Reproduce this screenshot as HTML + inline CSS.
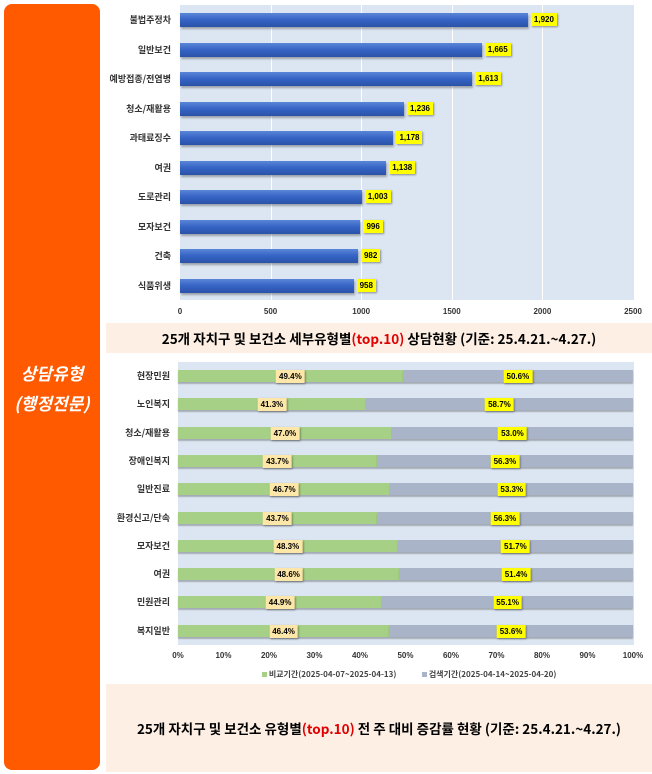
<!DOCTYPE html>
<html><head><meta charset="utf-8"><style>
body{margin:0;width:652px;height:774px;background:#fff;position:relative;overflow:hidden;font-family:"Liberation Sans","Noto Sans CJK KR",sans-serif}
.abs{position:absolute}
.side{left:4px;top:4px;width:96px;height:766px;background:#ff5a00;border-radius:8px}
.side div{position:absolute;left:0;width:96px;text-align:center;color:#fff;font-weight:bold;font-style:italic;font-size:17px;font-family:"Noto Sans CJK KR",sans-serif}
.cap{background:#fdefe4;left:106px;width:546px;font-weight:bold;font-size:13.5px;text-align:center;font-family:"Noto Sans CJK KR",sans-serif}
.cap span{color:#e00000}
.lbl{font-size:9px;font-weight:bold;color:#333;text-align:right;width:120px;font-family:"Noto Sans CJK KR",sans-serif}
.tk{font-size:8px;font-weight:bold;color:#333;width:40px;text-align:center}
.bar{background:linear-gradient(#5a86d8,#3563c4 50%,#2a52a8);box-shadow:1px 2px 2px rgba(0,0,0,.3)}
.v{background:#ffff00;font-size:8px;font-weight:bold;padding:1px 3px;box-shadow:1px 1px 2px rgba(0,0,0,.4);line-height:11px}
.g{background:#a6d086;box-shadow:0 2px 1px rgba(0,0,0,.25)}
.r{background:#aab4c8;box-shadow:0 2px 1px rgba(0,0,0,.25)}
.vb{background:#fde7a8;font-size:8px;font-weight:bold;padding:1px 3px;box-shadow:1px 1px 2px rgba(0,0,0,.4);line-height:11px;transform:translateX(-50%)}
.vy{background:#ffff00;font-size:8px;font-weight:bold;padding:1px 3px;box-shadow:1px 1px 2px rgba(0,0,0,.4);line-height:11px;transform:translateX(-50%)}
</style></head><body>
<div class="abs side"><div style="top:356px">상담유형</div><div style="top:386px">(행정전문)</div></div>
<div class="abs" style="left:180px;top:5px;width:454px;height:295px;background:#dce6f2"></div>
<div id="top"></div>
<div class="abs cap" style="top:323px;height:30px;line-height:30px">25개 자치구 및 보건소 세부유형별<span>(top.10)</span> 상담현황 (기준: 25.4.21.~4.27.)</div>
<div class="abs" style="left:178px;top:362px;width:456px;height:283px;background:#dce6f2"></div>
<div id="bot"></div>
<div class="abs" style="left:262px;top:669px;font-size:8px;font-weight:bold;color:#444;font-family:'Noto Sans CJK KR',sans-serif"><span style="display:inline-block;width:5px;height:5px;background:#a6d086"></span> 비교기간(2025-04-07~2025-04-13)</div>
<div class="abs" style="left:422px;top:669px;font-size:8px;font-weight:bold;color:#444;font-family:'Noto Sans CJK KR',sans-serif"><span style="display:inline-block;width:5px;height:5px;background:#aab4c8"></span> 검색기간(2025-04-14~2025-04-20)</div>
<div class="abs cap" style="top:684px;height:88px;line-height:88px">25개 자치구 및 보건소 유형별<span>(top.10)</span> 전 주 대비 증감률 현황 (기준: 25.4.21.~4.27.)</div>
<script>
var t=[["불법주정차",1920,"1,920"],["일반보건",1665,"1,665"],["예방접종/전염병",1613,"1,613"],["청소/재활용",1236,"1,236"],["과태료징수",1178,"1,178"],["여권",1138,"1,138"],["도로관리",1003,"1,003"],["모자보건",996,"996"],["건축",982,"982"],["식품위생",958,"958"]];
var h="",S=453/2500;
[1,2,3,4].forEach(function(i){h+='<div class="abs" style="left:'+(180+i*500*S)+'px;top:5px;width:1px;height:295px;background:#fff"></div>';});
t.forEach(function(d,i){var y=20+i*29.5;var w=d[1]*S;
h+='<div class="abs lbl" style="left:51px;top:'+(y-7)+'px">'+d[0]+'</div>';
h+='<div class="abs bar" style="left:180px;top:'+(y-7)+'px;width:'+w+'px;height:14px"></div>';
h+='<div class="abs v" style="left:'+(183+w)+'px;top:'+(y-7)+'px">'+d[2]+'</div>';});
[0,500,1000,1500,2000,2500].forEach(function(v,i){h+='<div class="abs tk" style="left:'+(160+i*500*S)+'px;top:307px">'+v+'</div>';});
document.getElementById("top").innerHTML=h;
var b=[["현장민원",49.4],["노인복지",41.3],["청소/재활용",47.0],["장애인복지",43.7],["일반진료",46.7],["환경신고/단속",43.7],["모자보건",48.3],["여권",48.6],["민원관리",44.9],["복지일반",46.4]];
h="";var W=455,X=178;
b.forEach(function(d,i){var y=376+i*28.3;var gw=d[1]*W/100;
h+='<div class="abs lbl" style="left:50px;top:'+(y-7)+'px">'+d[0]+'</div>';
h+='<div class="abs g" style="left:'+X+'px;top:'+(y-6)+'px;width:'+gw+'px;height:12px"></div>';
h+='<div class="abs r" style="left:'+(X+gw)+'px;top:'+(y-6)+'px;width:'+(W-gw)+'px;height:12px"></div>';
h+='<div class="abs vb" style="left:'+(X+gw/2)+'px;top:'+(y-6)+'px">'+d[1].toFixed(1)+'%</div>';
h+='<div class="abs vy" style="left:'+(X+gw+(W-gw)/2)+'px;top:'+(y-6)+'px">'+(100-d[1]).toFixed(1)+'%</div>';});
for(var i=0;i<=10;i++)h+='<div class="abs tk" style="left:'+(X-20+i*W/10)+'px;top:651px">'+(i*10)+'%</div>';
document.getElementById("bot").innerHTML=h;
</script>
</body></html>
